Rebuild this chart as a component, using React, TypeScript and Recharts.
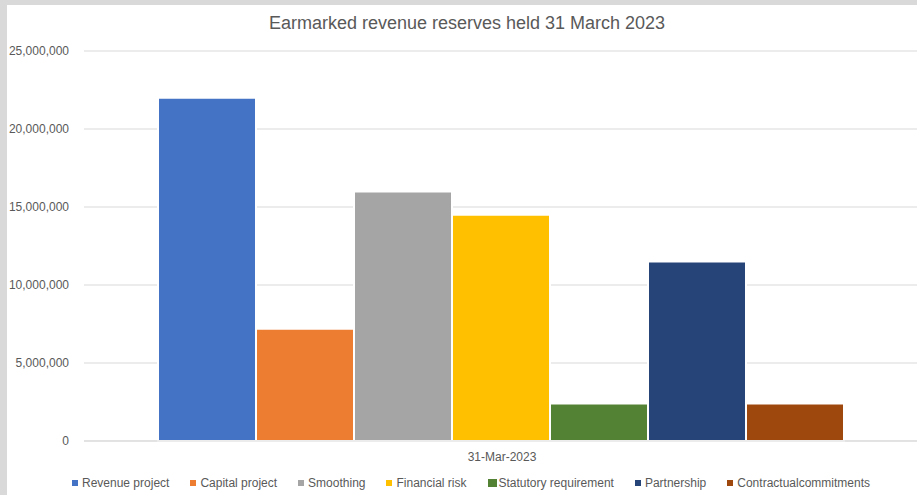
import { Bar, BarChart, CartesianGrid, Legend, XAxis, YAxis } from 'recharts'

const periods = ['31-Mar-2023']
const reserveNames = [
  'Revenue project',
  'Capital project',
  'Smoothing',
  'Financial risk',
  'Statutory requirement',
  'Partnership',
  'Contractualcommitments',
]
const reserveValues = [22000000, 7200000, 16000000, 14500000, 2400000, 11500000, 2400000]
const reserveColors = ['#4472c4', '#ed7d31', '#a5a5a5', '#ffc000', '#548235', '#264478', '#9e480e']
const yTicks = [0, 5000000, 10000000, 15000000, 20000000, 25000000]

const FONT = '"Liberation Sans", Arial, sans-serif'
const TEXT = '#595959'

// the chart fills the whole page, so drop the default body margin
if (typeof document !== 'undefined') {
  document.body.style.margin = '0'
}

// one row per period, one key per reserve
const data = periods.map((period) => {
  const row: Record<string, string | number> = { period }
  reserveNames.forEach((name, i) => {
    row[`r${i}`] = reserveValues[i]
  })
  return row
})

const renderLegend = (props: any) => {
  // keep the series order rather than the alphabetical one
  const items = [...(props.payload || [])].sort(
    (a: any, b: any) => reserveNames.indexOf(a.value) - reserveNames.indexOf(b.value)
  )
  return (
    <div
      style={{
        display: 'flex',
        justifyContent: 'center',
        paddingLeft: 18,
        fontFamily: FONT,
        fontSize: 12,
        lineHeight: '16px',
        color: TEXT,
        whiteSpace: 'nowrap',
      }}
    >
      {items.map((entry: any, idx: number) => {
        const i = reserveNames.indexOf(entry.value)
        // the statutory key is drawn a little larger
        const big = entry.value === 'Statutory requirement'
        return (
          <span
            key={entry.value}
            style={{
              display: 'flex',
              alignItems: 'center',
              marginRight: idx === items.length - 1 ? 0 : 21,
            }}
          >
            <span
              style={{
                width: big ? 9 : 6,
                height: big ? 8 : 6,
                marginRight: big ? 2 : 4,
                background: reserveColors[i >= 0 ? i : idx],
              }}
            />
            {entry.value}
          </span>
        )
      })}
    </div>
  )
}

export default function App() {
  return (
    <div
      style={{
        width: 917,
        height: 495,
        background: '#d9d9d9',
        position: 'relative',
        overflow: 'hidden',
      }}
    >
      <div
        style={{
          position: 'absolute',
          left: 7,
          top: 5,
          width: 910,
          height: 490,
          background: '#fff',
        }}
      >
        <div
          style={{
            position: 'absolute',
            left: 0,
            top: 8,
            width: 910,
            paddingLeft: 10,
            boxSizing: 'border-box',
            textAlign: 'center',
            fontFamily: FONT,
            fontSize: 18,
            color: TEXT,
          }}
        >
          Earmarked revenue reserves held 31 March 2023
        </div>
        <BarChart
          width={913}
          height={490}
          data={data}
          margin={{ top: 46, right: 0, bottom: 24, left: 0 }}
          barCategoryGap={74}
          barGap={0}
        >
          <CartesianGrid vertical={false} stroke="#d9d9d9" />
          <XAxis
            dataKey="period"
            height={30}
            axisLine={{ stroke: '#d9d9d9' }}
            tickLine={false}
            tickSize={0}
            tickMargin={11}
            tick={{ fill: TEXT, fontSize: 12, fontFamily: FONT }}
          />
          <YAxis
            width={77}
            domain={[0, 25000000]}
            ticks={yTicks}
            axisLine={false}
            tickLine={false}
            tickSize={6}
            tickMargin={9}
            tickFormatter={(v: number) => v.toLocaleString('en-US')}
            tick={{ fill: TEXT, fontSize: 12, fontFamily: FONT }}
          />
          <Legend
            layout="horizontal"
            verticalAlign="middle"
            content={renderLegend}
            wrapperStyle={{ top: 470, left: 0, width: 910, height: 'auto' }}
          />
          {reserveNames.map((name, i) => (
            <Bar
              key={name}
              dataKey={`r${i}`}
              name={name}
              fill={reserveColors[i]}
              stroke="#fff"
              strokeWidth={2}
              isAnimationActive={false}
            />
          ))}
        </BarChart>
      </div>
    </div>
  )
}
